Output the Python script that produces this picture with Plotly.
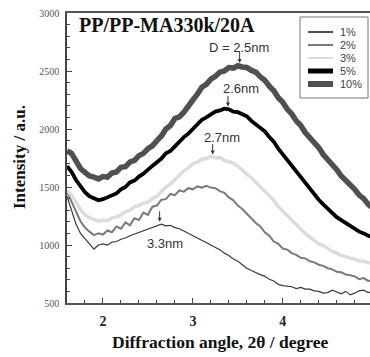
import plotly.graph_objects as go

# ---------------- data ----------------
angle = [1.60, 1.65, 1.70, 1.75, 1.80, 1.85, 1.90, 1.95, 2.00, 2.05, 2.10, 2.15, 2.20, 2.25,
         2.30, 2.35, 2.40, 2.45, 2.50, 2.55, 2.60, 2.65, 2.70, 2.75, 2.80, 2.85, 2.90, 2.95,
         3.00, 3.05, 3.10, 3.15, 3.20, 3.25, 3.30, 3.35, 3.40, 3.45, 3.50, 3.55, 3.60, 3.65,
         3.70, 3.75, 3.80, 3.85, 3.90, 3.95, 4.00, 4.05, 4.10, 4.15, 4.20, 4.25, 4.30, 4.35,
         4.40, 4.45, 4.50, 4.55, 4.60, 4.65, 4.70, 4.75, 4.80, 4.85, 4.90, 4.95, 5.00]

i_1pct = [1420, 1300, 1180, 1100, 1050, 1010, 965, 1000, 1010, 1000, 1025, 1030, 1050, 1060,
          1080, 1095, 1110, 1120, 1140, 1150, 1165, 1180, 1165, 1170, 1150, 1140, 1120, 1100,
          1080, 1060, 1040, 1020, 1000, 975, 960, 930, 910, 880, 860, 830, 800, 780,
          760, 745, 730, 705, 690, 660, 650, 645, 640, 625, 635, 620, 620, 605,
          600, 585, 590, 610, 595, 580, 600, 570, 585, 605, 610, 590, 600]

i_2pct = [1460, 1380, 1290, 1205, 1150, 1115, 1085, 1100, 1090, 1125, 1110, 1160, 1140, 1195,
          1170, 1230, 1215, 1280, 1260, 1330, 1340, 1390, 1395, 1440, 1430, 1470, 1460, 1490,
          1480, 1505, 1495, 1510, 1495, 1490, 1465, 1450, 1410, 1385, 1340, 1310, 1270, 1235,
          1190, 1160, 1110, 1080, 1030, 1010, 970, 960, 930, 915, 890, 885, 860, 850,
          830, 820, 800, 790, 770, 765, 745, 740, 730, 705, 715, 690, 695]

i_3pct = [1470, 1430, 1370, 1305, 1260, 1235, 1220, 1205, 1215, 1210, 1235, 1240, 1260, 1285,
          1300, 1330, 1340, 1360, 1370, 1400, 1420, 1465, 1500, 1525, 1565, 1600, 1640, 1665,
          1700, 1715, 1740, 1745, 1765, 1750, 1755, 1730, 1720, 1705, 1680, 1640, 1610, 1580,
          1540, 1510, 1470, 1420, 1385, 1330, 1290, 1250, 1210, 1180, 1140, 1100, 1070, 1040,
          1010, 995, 970, 945, 930, 910, 900, 885, 880, 860, 860, 845, 850]

i_5pct = [1680, 1630, 1560, 1500, 1455, 1420, 1400, 1385, 1395, 1410, 1430, 1445, 1480, 1500,
          1540, 1555, 1590, 1615, 1650, 1680, 1720, 1745, 1790, 1810, 1850, 1895, 1930, 1960,
          2000, 2050, 2080, 2100, 2130, 2150, 2160, 2175, 2170, 2150, 2145, 2130, 2110, 2070,
          2040, 2015, 1980, 1930, 1890, 1830, 1780, 1740, 1690, 1635, 1590, 1535, 1490, 1435,
          1390, 1350, 1310, 1270, 1240, 1215, 1190, 1160, 1140, 1115, 1100, 1080, 1070]

i_10pct = [1810, 1790, 1725, 1660, 1625, 1595, 1585, 1570, 1590, 1585, 1620, 1630, 1670, 1675,
           1715, 1730, 1770, 1790, 1830, 1855, 1900, 1940, 2000, 2030, 2090, 2105, 2145, 2190,
           2250, 2300, 2360, 2385, 2430, 2455, 2490, 2500, 2530, 2525, 2545, 2535, 2530, 2505,
           2490, 2450, 2420, 2370, 2330, 2270, 2230, 2170, 2130, 2070, 2030, 1970, 1930, 1875,
           1840, 1780, 1740, 1685, 1650, 1595, 1560, 1510, 1480, 1430, 1400, 1350, 1320]

series_names = ["1%", "2%", "3%", "5%", "10%"]
series_values = [i_1pct, i_2pct, i_3pct, i_5pct, i_10pct]
series_colors = ["#3a3a3a", "#7a7a7a", "#dcdcdc", "#000000", "#505050"]
series_widths = [1.2, 2.0, 3.5, 3.8, 5.5]
legend_widths = [1.8, 2.0, 2.0, 5.0, 6.0]

# peak labels: (text, text_x, text_y, arrow_x, arrow_tip_y)
peak_labels = [
    ("D = 2.5nm", 3.51, 2705, 3.52, 2570),
    ("2.6nm", 3.53, 2350, 3.39, 2195),
    ("2.7nm", 3.32, 1930, 3.22, 1780),
    ("3.3nm", 2.69, 1010, 2.63, 1200),
]
peak_arrow_len = [13, 12, 12, 12]

x_ticks = [2, 3, 4]
y_ticks = [500, 1000, 1500, 2000, 2500, 3000]

# ---------------- figure ----------------
fig = go.Figure()
for name, vals, col, w in zip(series_names, series_values, series_colors, series_widths):
    fig.add_trace(go.Scatter(x=angle, y=vals, mode="lines", name=name,
                             line=dict(color=col, width=w), showlegend=False))

serif = "Liberation Serif"
sans = "Liberation Sans"

fig.update_layout(
    width=370, height=357,
    margin=dict(l=67, r=0, t=13, b=54),
    paper_bgcolor="white", plot_bgcolor="white",
    xaxis=dict(range=[1.6, 4.97], tickvals=x_ticks, ticks="inside", ticklen=5, tickwidth=1,
               tickcolor="#444", showline=True, linecolor="#555", linewidth=1.5, mirror=True,
               showgrid=False, zeroline=False, ticklabelstandoff=4,
               tickfont=dict(family=serif, size=14, color="#222", weight="bold"),
               minor=dict(dtick=0.2, ticks="inside", ticklen=3, tickcolor="#444", showgrid=False)),
    yaxis=dict(range=[500, 3000], tickvals=y_ticks, ticks="inside", ticklen=5, tickwidth=1,
               tickcolor="#444", showline=True, linecolor="#444", linewidth=1.5, mirror=False,
               showgrid=False, zeroline=False, ticklabelstandoff=4,
               tickfont=dict(family=serif, size=10, color="#555"),
               minor=dict(dtick=100, ticks="inside", ticklen=3, tickcolor="#444", showgrid=False)),
    showlegend=False,
)


def px_to_paper(px, py):
    return (px - 67) / 303.0, (303 - py) / 290.0


annotations = []
shapes = []

# chart title inside plot
tx0, ty0 = px_to_paper(77, 25)
annotations.append(dict(text="<b>PP/PP-MA330k/20A</b>", x=tx0, y=ty0, xref="paper", yref="paper",
                        xanchor="left", yanchor="middle", showarrow=False,
                        font=dict(family=serif, size=20, color="#111")))
# axis titles
ax_x, ax_y = px_to_paper(220, 342)
annotations.append(dict(text="<b>Diffraction angle, 2θ / degree</b>", x=ax_x, y=ax_y,
                        xref="paper", yref="paper", xanchor="center", yanchor="middle",
                        showarrow=False, font=dict(family=serif, size=17.5, color="#111")))
ay_x, ay_y = px_to_paper(19, 157)
annotations.append(dict(text="<b>Intensity / a.u.</b>", x=ay_x, y=ay_y, xref="paper", yref="paper",
                        xanchor="center", yanchor="middle", textangle=-90, showarrow=False,
                        font=dict(family=serif, size=17, color="#111")))

# peak labels and arrows
for (txt, tx, ty, axp, tip), alen in zip(peak_labels, peak_arrow_len):
    annotations.append(dict(text=txt, x=tx, y=ty, xref="x", yref="y", showarrow=False,
                            xanchor="center", yanchor="middle",
                            font=dict(family=sans, size=13, color="#333")))
    annotations.append(dict(text="", x=axp, y=tip, xref="x", yref="y", showarrow=True,
                            ax=0, ay=-alen, arrowhead=2, arrowsize=0.8, arrowwidth=1,
                            arrowcolor="#333"))

# manual legend box
bx0, by0 = px_to_paper(300, 98)
bx1, by1 = px_to_paper(368, 17)
shapes.append(dict(type="rect", xref="paper", yref="paper", x0=bx0, y0=by0, x1=bx1, y1=by1,
                   line=dict(color="#777", width=1), fillcolor="white", layer="above"))
row_y = [32, 45, 58, 71, 84]
for name, col, lw, ry in zip(series_names, series_colors, legend_widths, row_y):
    lx0, ly = px_to_paper(308, ry)
    lx1, _ = px_to_paper(333, ry)
    shapes.append(dict(type="line", xref="paper", yref="paper", x0=lx0, x1=lx1, y0=ly, y1=ly,
                       line=dict(color=col, width=lw), layer="above"))
    ltx, _ = px_to_paper(338, ry)
    annotations.append(dict(text=name, x=ltx, y=ly, xref="paper", yref="paper", xanchor="left",
                            yanchor="middle", showarrow=False,
                            font=dict(family=sans, size=11, color="#444")))

fig.update_layout(annotations=annotations, shapes=shapes)
fig.write_html("out.html")
